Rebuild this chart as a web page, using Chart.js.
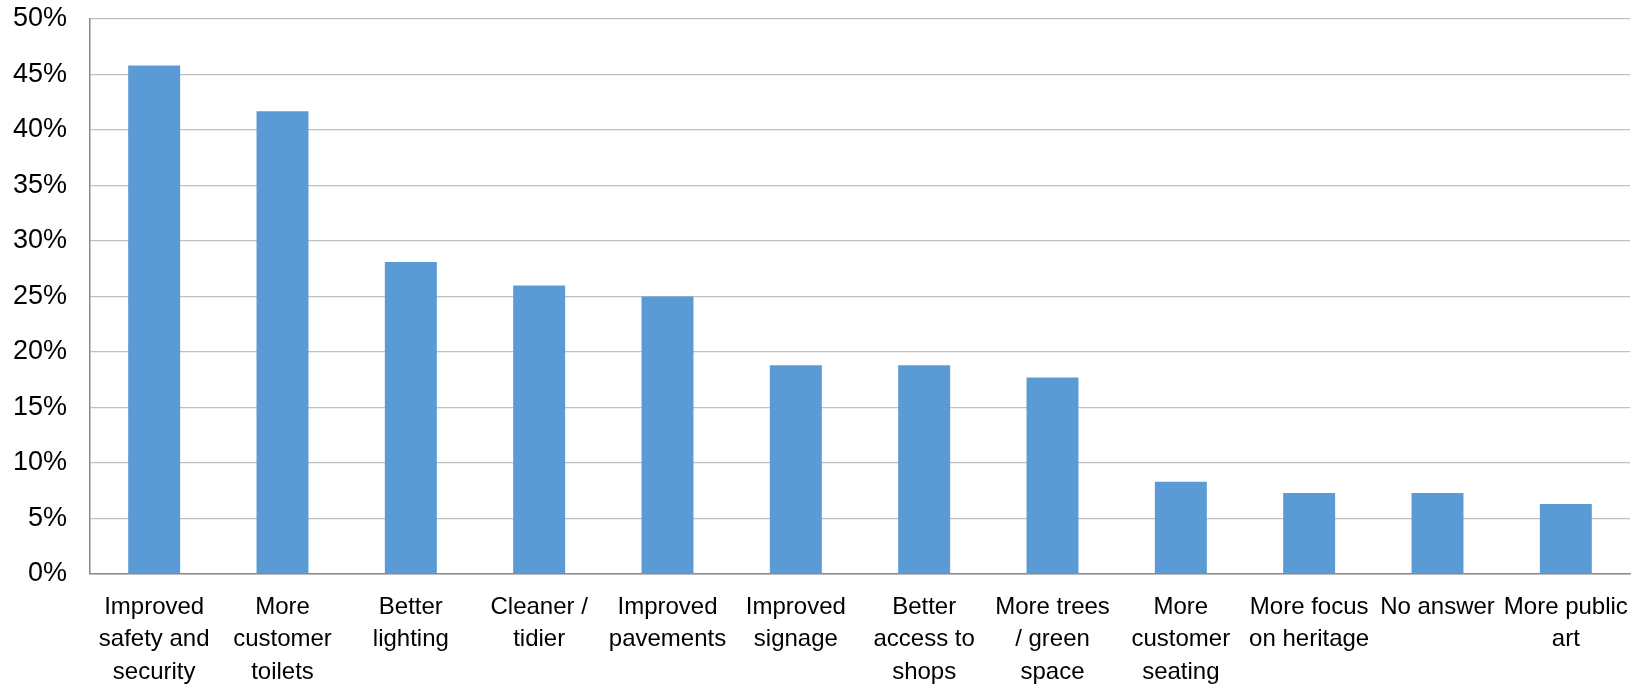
<!DOCTYPE html>
<html>
<head>
<meta charset="utf-8">
<script src="https://cdn.jsdelivr.net/npm/chart.js@4/dist/chart.umd.min.js"></script>
<style>
  html, body { margin: 0; padding: 0; background: #ffffff; }
  #wrap { width: 1635px; height: 690px; }
</style>
</head>
<body>
<div id="wrap"><canvas id="chart" width="1635" height="690"></canvas></div>
<script>
// Survey answers: share of respondents choosing each improvement
const categories = [
  ['Improved', 'safety and', 'security'],
  ['More', 'customer', 'toilets'],
  ['Better', 'lighting'],
  ['Cleaner /', 'tidier'],
  ['Improved', 'pavements'],
  ['Improved', 'signage'],
  ['Better', 'access to', 'shops'],
  ['More trees', '/ green', 'space'],
  ['More', 'customer', 'seating'],
  ['More focus', 'on heritage'],
  ['No answer'],
  ['More public', 'art']
];
const shares = [45.8, 41.7, 28.1, 26.0, 25.0, 18.8, 18.8, 17.7, 8.3, 7.3, 7.3, 6.3];
const yTicks = [0, 5, 10, 15, 20, 25, 30, 35, 40, 45, 50];

const FONT = "'Liberation Sans', Arial, sans-serif";

new Chart(document.getElementById('chart'), {
  type: 'bar',
  data: {
    labels: categories,
    datasets: [{
      data: shares,
      backgroundColor: '#5B9BD5',
      borderWidth: 0,
      categoryPercentage: 1.0,
      barPercentage: 0.405
    }]
  },
  options: {
    responsive: false,
    animation: false,
    layout: { padding: { top: 19, right: 5, left: 0, bottom: 0 } },
    plugins: {
      legend: { display: false },
      tooltip: { enabled: false }
    },
    scales: {
      x: {
        grid: { display: false, drawTicks: false },
        border: { display: true, color: '#8a8a8a', width: 1.5 },
        ticks: {
          color: '#000000',
          font: { family: FONT, size: 24, lineHeight: 1.35 },
          maxRotation: 0,
          minRotation: 0,
          autoSkip: false,
          padding: 17
        },
        afterFit: (s) => { s.height = 116; s.paddingLeft = 0; s.paddingRight = 0; }
      },
      y: {
        min: 0,
        max: 50,
        afterBuildTicks: (s) => { s.ticks = yTicks.map(v => ({ value: v })); },
        grid: { color: '#c0c0c0', lineWidth: 1.3, drawTicks: false },
        border: { display: true, color: '#8a8a8a', width: 1.5 },
        ticks: {
          color: '#000000',
          font: { family: FONT, size: 27 },
          padding: 23,
          callback: (v) => v + '%'
        },
        afterFit: (s) => { s.width = 90; s.paddingTop = 0; s.paddingBottom = 0; }
      }
    }
  }
});
</script>
</body>
</html>
